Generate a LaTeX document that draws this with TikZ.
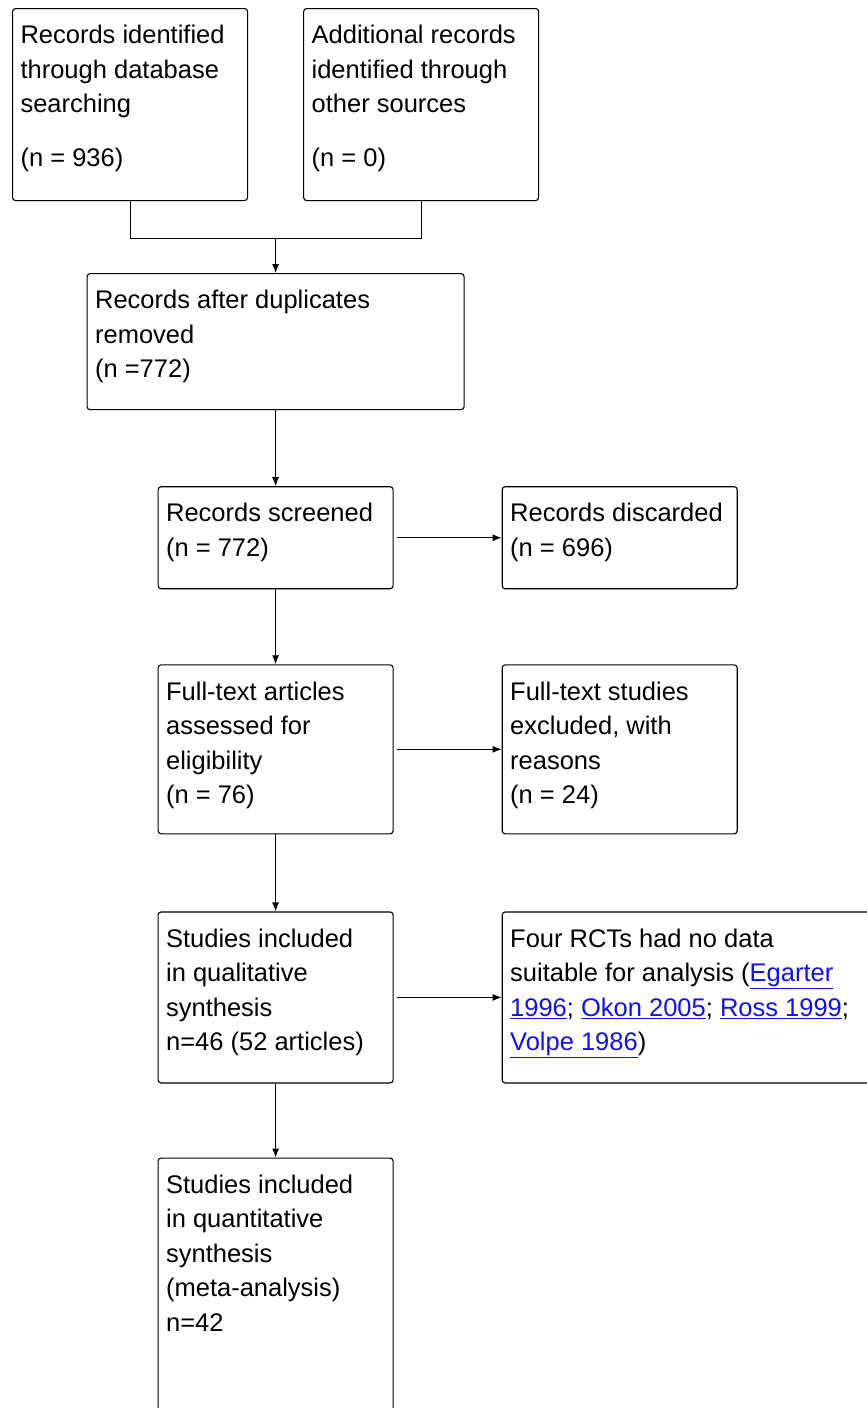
\documentclass[tikz,border=0pt]{standalone}
\usepackage{fontspec}
\setmainfont{Liberation Sans}
\definecolor{linkblue}{RGB}{17, 17, 238}
\usetikzlibrary{
  arrows.meta,
  calc,
  positioning,
}
\tikzset{
  >={Latex[length=9pt,width=7pt]},
  stage/.style={draw, rounded corners=3pt, line width=1.1pt, inner xsep=8pt, inner ysep=11pt,
    font=\fontsize{25.5pt}{34.5pt}\selectfont},
  flow/.style={line width=1.1pt},
}
\newcommand{\boxtext}[3]{\parbox[t][#1][t]{#2}{\strut#3}}
\newcommand{\reflink}[1]{\textcolor{linkblue}{\underline{#1}}}

\begin{document}
\begin{tikzpicture}[x=1pt, y=1pt]

        \useasboundingbox (0,0) rectangle (867,-1408);
        \clip (0,0) rectangle (867,-1408);

        \node[stage, anchor=north west] (ident) at (12,-8) {\boxtext{170pt}{219pt}{Records identified\\through database\\searching\\[19pt](n = 936)}};
        \node[stage] (other) [right=55pt of ident] {\boxtext{170pt}{219pt}{Additional records\\identified through\\other sources\\[19pt](n = 0)}};
        \coordinate (join) at ($(ident.south)!0.5!(other.south)+(0,-37)$);
        \node[stage] (dedup) [below=35pt of join] {\boxtext{114pt}{361pt}{Records after duplicates\\removed\\(n =772)}};
        \node[stage] (screened) [below=76pt of dedup] {\boxtext{80pt}{219pt}{Records screened\\(n = 772)}};
        \node[stage] (discarded) [right=108pt of screened] {\boxtext{80pt}{219pt}{Records discarded\\(n = 696)}};
        \node[stage] (fulltext) [below=75pt of screened] {\boxtext{147pt}{219pt}{Full-text articles\\assessed for\\eligibility\\(n = 76)}};
        \node[stage] (excluded) [right=108pt of fulltext] {\boxtext{147pt}{219pt}{Full-text studies\\excluded, with\\reasons\\(n = 24)}};
        \node[stage] (qualitative) [below=77pt of fulltext] {\boxtext{149pt}{219pt}{Studies included\\in qualitative\\synthesis\\n=46 (52 articles)}};
        \node[stage] (nodata) [right=108pt of qualitative] {\boxtext{149pt}{364pt}{Four RCTs had no data\\suitable for analysis (\reflink{Egarter}\\\reflink{1996}; \reflink{Okon 2005}; \reflink{Ross 1999};\\\reflink{Volpe 1986})}};
        \node[stage] (quantitative) [below=74pt of qualitative] {\boxtext{278pt}{219pt}{Studies included\\in quantitative\\synthesis\\(meta-analysis)\\n=42}};

        \draw[flow] (ident.south) |- (join) -| (other.south);
        \draw[flow,->] (join) -- (dedup.north);
        \draw[flow,->] (dedup) -- (screened);
        \draw[flow,->,shorten <=3pt] (screened) -- (discarded);
        \draw[flow,->] (screened) -- (fulltext);
        \draw[flow,->,shorten <=3pt] (fulltext) -- (excluded);
        \draw[flow,->] (fulltext) -- (qualitative);
        \draw[flow,->,shorten <=3pt] (qualitative) -- (nodata);
        \draw[flow,->] (qualitative) -- (quantitative);

    \end{tikzpicture}
\end{document}
